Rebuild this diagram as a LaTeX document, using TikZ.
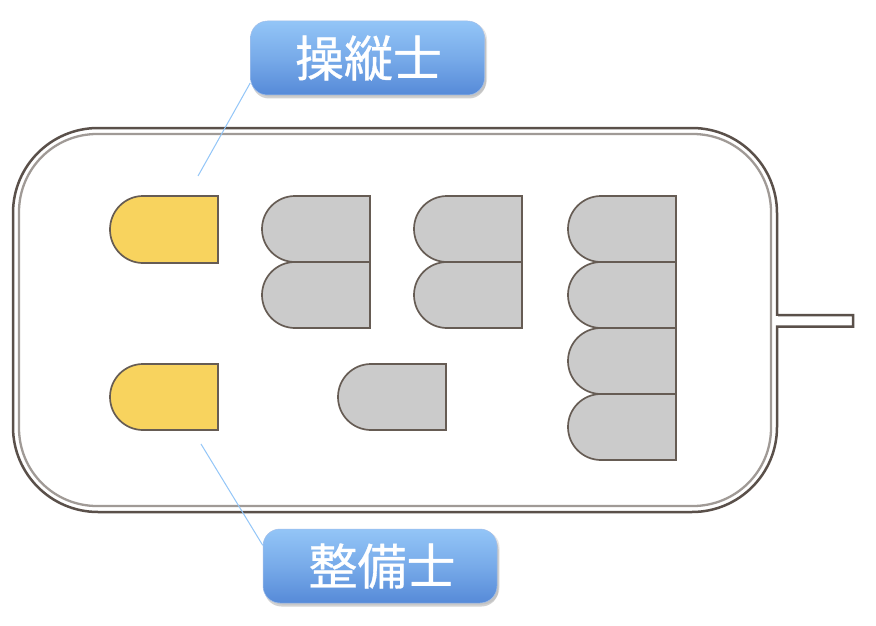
\documentclass[tikz,border=0pt]{standalone}
\usepackage{fontspec}
\newfontfamily\jpfont[FakeBold=0.7]{Noto Sans CJK JP}
\usetikzlibrary{shadows}
\definecolor{hull}{HTML}{5A504A}
\definecolor{hullin}{HTML}{A09A96}
\definecolor{seatline}{HTML}{665C54}
\definecolor{seatgray}{HTML}{CBCBCB}
\definecolor{seatyellow}{HTML}{F8D35E}
\definecolor{btop}{HTML}{93C5F7}
\definecolor{bbot}{HTML}{568AD8}
\definecolor{leader}{HTML}{93C6F8}
\tikzset{
  seatshape/.style={draw=seatline,line width=1.7pt,line join=miter},
  graysseat/.style={seatshape,fill=seatgray},
  pilotseat/.style={seatshape,fill=seatyellow},
  hullouter/.style={draw=hull,line width=2.5pt,line join=miter},
  hullinner/.style={draw=hullin,line width=2.3pt},
  leaderline/.style={draw=leader,line width=1pt},
  tag/.style={
    shade,top color=btop,bottom color=bbot,middle color=btop!55!bbot,
    draw=bbot!55!white,line width=0.5pt,
    rounded corners=17pt,minimum width=234pt,minimum height=74pt,
    inner sep=0pt,text=white,font=\jpfont\fontsize{49}{49}\selectfont,
    general shadow={shadow xshift=1.5pt,shadow yshift=-3.5pt,fill=black!50,opacity=.35},
    general shadow={shadow xshift=2.5pt,shadow yshift=-1.5pt,fill=black!40,opacity=.25}
  },
  tagtext/.style={xshift=1.5pt}
}
\newcommand{\seatpath}[4][graysseat]{%
  \draw[#1] (#2+108,#3) -- (#2+33,#3)
    arc[start angle=90,end angle=270,x radius=33,y radius=-#4/2]
    -- (#2+108,#3+#4) -- cycle;
}
\begin{document}
\begin{tikzpicture}[x=1pt,y=-1pt]
\useasboundingbox (0,0) rectangle (876,626);
\fill[white] (0,0) rectangle (876,626);
% hull
\draw[hullinner,rounded corners=78pt] (19,134) rectangle (771,506);
\draw[hullouter] (777,315) -- (853,315) -- (853,326.5) -- (777,326.5)
  -- (777,427) arc[start angle=0,end angle=90,radius=85]
  -- (98,512) arc[start angle=90,end angle=180,radius=85]
  -- (13,213) arc[start angle=180,end angle=270,radius=85]
  -- (692,128) arc[start angle=270,end angle=360,radius=85] -- cycle;
\fill[white] (772.5,316.3) rectangle (778.3,325.2);
% seats
\seatpath[pilotseat]{110}{196}{67}
\seatpath[pilotseat]{110}{364}{66}
\seatpath{262}{196}{66}
\seatpath{262}{262}{66}
\seatpath{414}{196}{66}
\seatpath{414}{262}{66}
\seatpath{338}{364}{66}
\seatpath{568}{196}{66}
\seatpath{568}{262}{66}
\seatpath{568}{328}{66}
\seatpath{568}{394}{66}
% labels
\coordinate (pilotend) at (198,176);
\coordinate (mechend) at (201,444);
\node[tag] (pilot) at (367.5,58) {\hspace{2pt}操縦士};
\node[tag] (mech) at (380,566) {\hspace{4pt}整備士};
\draw[leaderline] (pilotend) -- (pilot.192);
\draw[leaderline] (mechend) -- (mech.170);
\end{tikzpicture}
\end{document}
